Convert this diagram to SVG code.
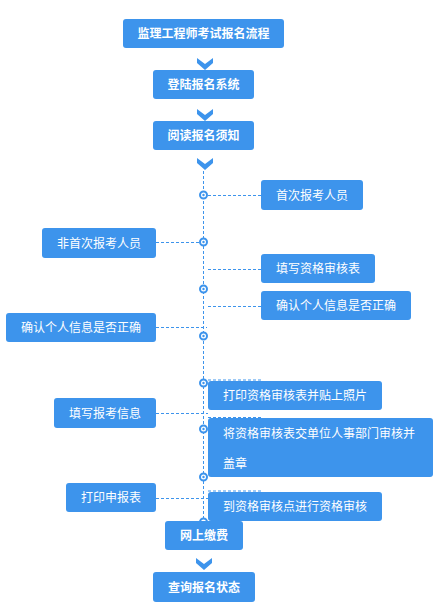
<svg xmlns="http://www.w3.org/2000/svg" width="442" height="610" viewBox="0 0 442 610">
<style>
.box{fill:#3d94ec;}
.t{font-family:"Noto Sans CJK SC","Microsoft YaHei",sans-serif;font-size:12px;fill:#ffffff;}
.b{font-weight:bold;text-anchor:middle;}
.c{text-anchor:middle;}
.d{stroke:#3d94ec;stroke-width:1;stroke-dasharray:3,2;fill:none;}
.chev{fill:#3d94ec;}
.ring{fill:#ffffff;stroke:#3d94ec;stroke-width:2;}
.dot{fill:#3d94ec;}
</style>
<rect width="442" height="610" fill="#ffffff"/>
<g id="connectors">
<line class="d" x1="203.5" y1="171" x2="203.5" y2="522"/>
<line class="d" x1="208" y1="195.5" x2="261" y2="195.5"/>
<line class="d" x1="156" y1="242.5" x2="199" y2="242.5"/>
<line class="d" x1="208" y1="269.5" x2="261" y2="269.5"/>
<line class="d" x1="208" y1="306.5" x2="261" y2="306.5"/>
<line class="d" x1="156" y1="327.5" x2="207" y2="327.5"/>
<line class="d" x1="208" y1="380" x2="261" y2="380"/>
<line class="d" x1="156" y1="413.5" x2="208" y2="413.5"/>
<line class="d" x1="208" y1="417.5" x2="261" y2="417.5"/>
<line class="d" x1="156" y1="498.5" x2="208" y2="498.5"/>
<line class="d" x1="208" y1="491" x2="261" y2="491"/>
<polygon class="chev" points="197,58 205,64 213,58 213,63 205,70 197,63"/>
<polygon class="chev" points="197,109 205,115 213,109 213,114 205,121 197,114"/>
<polygon class="chev" points="197,158 205,164 213,158 213,163 205,170 197,163"/>
<polygon class="chev" points="196,558 204,564 212,558 212,563 204,570 196,563"/>
<g id="dots">
<circle class="ring" cx="203.5" cy="195" r="3.5"/><circle class="dot" cx="203.5" cy="195" r="1.2"/>
<circle class="ring" cx="203.5" cy="242" r="3.5"/><circle class="dot" cx="203.5" cy="242" r="1.2"/>
<circle class="ring" cx="203.5" cy="289" r="3.5"/><circle class="dot" cx="203.5" cy="289" r="1.2"/>
<circle class="ring" cx="203.5" cy="336" r="3.5"/><circle class="dot" cx="203.5" cy="336" r="1.2"/>
<circle class="ring" cx="203.5" cy="383" r="3.5"/><circle class="dot" cx="203.5" cy="383" r="1.2"/>
<circle class="ring" cx="203.5" cy="429" r="3.5"/><circle class="dot" cx="203.5" cy="429" r="1.2"/>
<circle class="ring" cx="203.5" cy="477" r="3.5"/><circle class="dot" cx="203.5" cy="477" r="1.2"/>
<circle class="ring" cx="203.5" cy="522" r="3.5"/>
</g>
</g>
<g id="n1"><rect class="box" x="123" y="19" width="161" height="29" rx="3"/><text class="t b" x="203.5" y="38">监理工程师考试报名流程</text></g>
<g id="n2"><rect class="box" x="153" y="70" width="101" height="29" rx="3"/><text class="t b" x="203.5" y="89">登陆报名系统</text></g>
<g id="n3"><rect class="box" x="153" y="121" width="101" height="29" rx="3"/><text class="t b" x="203.5" y="140">阅读报名须知</text></g>
<g id="n4"><rect class="box" x="261" y="180" width="102" height="30" rx="3"/><text class="t c" x="312" y="199.5">首次报考人员</text></g>
<g id="n5"><rect class="box" x="42" y="228" width="114" height="30" rx="3"/><text class="t c" x="99" y="247.5">非首次报考人员</text></g>
<g id="n6"><rect class="box" x="261" y="254" width="114" height="29" rx="3"/><text class="t c" x="318" y="273">填写资格审核表</text></g>
<g id="n7"><rect class="box" x="261" y="291" width="150" height="29" rx="3"/><text class="t c" x="336" y="310">确认个人信息是否正确</text></g>
<g id="n8"><rect class="box" x="6" y="313" width="150" height="29" rx="3"/><text class="t c" x="81" y="332">确认个人信息是否正确</text></g>
<g id="n9"><rect class="box" x="208" y="381" width="174" height="29" rx="3"/><text class="t" x="223" y="400">打印资格审核表并贴上照片</text></g>
<g id="n10"><rect class="box" x="54" y="398" width="102" height="30" rx="3"/><text class="t c" x="105" y="417.5">填写报考信息</text></g>
<g id="n11"><rect class="box" x="208" y="418" width="225" height="59" rx="3"/><text class="t" x="223" y="437.5">将资格审核表交单位人事部门审核并</text><text class="t" x="223" y="467.5">盖章</text></g>
<g id="n12"><rect class="box" x="66" y="483" width="90" height="29" rx="3"/><text class="t c" x="111" y="502">打印申报表</text></g>
<g id="n13"><rect class="box" x="208" y="492" width="174" height="29" rx="3"/><text class="t" x="223" y="511">到资格审核点进行资格审核</text></g>
<g id="n14"><rect class="box" x="165" y="521" width="78" height="29" rx="3"/><text class="t b" x="204" y="540">网上缴费</text></g>
<g id="n15"><rect class="box" x="153" y="572" width="102" height="30" rx="3"/><text class="t b" x="204" y="591.5">查询报名状态</text></g>
</svg>
